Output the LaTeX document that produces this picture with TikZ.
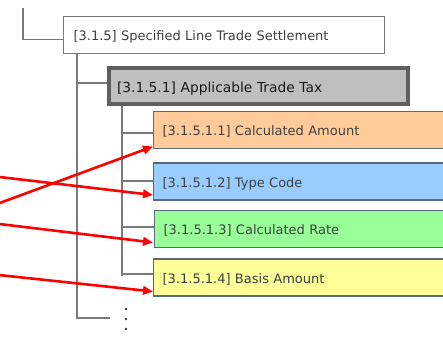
\documentclass[tikz,border=0pt]{standalone}
\usepackage{fontspec}
\setmainfont{DejaVu Sans}
\usetikzlibrary{arrows.meta}

\definecolor{treegray}{HTML}{7A7A7A}
\definecolor{boxline}{HTML}{5A6880}
\definecolor{txtgray}{HTML}{404040}
\definecolor{fillorange}{HTML}{FFCC99}
\definecolor{fillblue}{HTML}{99CCFF}
\definecolor{fillgreen}{HTML}{99FF99}
\definecolor{fillyellow}{HTML}{FFFF99}
\definecolor{fillgray}{HTML}{BFBFBF}
\definecolor{edgegray}{HTML}{5F5F5F}

\tikzset{
  tree/.style={draw=treegray, line width=1.8pt},
  levelbox/.style={draw=treegray, line width=1.6pt, fill=white,
    anchor=north west, minimum width=321pt, minimum height=37pt,
    inner xsep=10pt, text width=301pt, align=left, text=txtgray,
    text height=11.2pt, text depth=0pt,
    font=\fontsize{13}{15}\selectfont},
  taxbox/.style={draw=edgegray, line width=4pt, fill=fillgray,
    anchor=north west, minimum width=299pt, minimum height=36pt,
    inner xsep=8pt, text width=283pt, align=left, text=black!90,
    text height=11.5pt, text depth=0pt,
    font=\fontsize{13.8}{16}\selectfont},
  leafbox/.style={draw=boxline, line width=1.3pt,
    anchor=west, minimum width=320pt, minimum height=37pt,
    inner xsep=9.5pt, text width=301pt, align=left, text=txtgray,
    text height=11.2pt, text depth=0pt,
    font=\fontsize{13}{15}\selectfont},
  pointer/.style={draw=red, line width=2.6pt,
    -{Triangle[length=10pt,width=8.5pt]}}
}

\begin{document}
\begin{tikzpicture}[x=1pt,y=-1pt]
  \clip (0,0) rectangle (443,339);

  % boxes of the tree
  \node[levelbox] (s315) at (62.8,15.8) {[3.1.5] Specified Line Trade Settlement};
  \node[taxbox] (s3151) at (107,66.5) {[3.1.5.1] Applicable Trade Tax};
  \node[leafbox, fill=fillorange] (amount) at (152.5,130) {[3.1.5.1.1] Calculated Amount};
  \node[leafbox, fill=fillblue]   (type)   at (152.5,181.5) {[3.1.5.1.2] Type Code};
  \node[leafbox, fill=fillgreen]  (rate)   at (153.5,229) {[3.1.5.1.3] Calculated Rate};
  \node[leafbox, fill=fillyellow] (basis)  at (152.5,277.5) {[3.1.5.1.4] Basis Amount};

  % outer branch into [3.1.5]
  \coordinate (top) at (23,8);
  \coordinate (topbend) at (23,39.5);
  \draw[tree] (top) -- (topbend) -- (topbend -| s315.west);

  % spine under [3.1.5]
  \coordinate (spineA) at (77,318);
  \coordinate (spineAend) at (110,318);
  \coordinate (forkA) at (77,83);
  \draw[tree] (s315.south -| spineA) -- (spineA) -- (spineAend);
  \draw[tree] (forkA) -- (forkA -| s3151.west);

  % spine under [3.1.5.1]
  \coordinate (spineB) at (122,276);
  \coordinate (fork1) at (122,133);
  \coordinate (fork2) at (122,181);
  \coordinate (fork3) at (122,227);
  \coordinate (fork4) at (122,274);
  \draw[tree] (s3151.south -| spineB) -- (spineB);
  \draw[tree] (fork1) -- (fork1 -| amount.west);
  \draw[tree] (fork2) -- (fork2 -| type.west);
  \draw[tree] (fork3) -- (fork3 -| rate.west);
  \draw[tree] (fork4) -- (fork4 -| basis.west);

  % continuation dots
  \foreach \yy in {309,319,329} \fill[black!80] (126,\yy) circle (1.3pt);

  % red pointers
  \coordinate (p1) at (-3,176.7);
  \coordinate (p2) at (-3,204);
  \coordinate (p3) at (-3,223.7);
  \coordinate (p4) at (-3,274.8);
  \coordinate (q1) at (153,195);
  \coordinate (q2) at (153,146.5);
  \coordinate (q3) at (153,242.5);
  \coordinate (q4) at (153,291.5);
  \draw[pointer] (p1) -- (q1);
  \draw[pointer] (p2) -- (q2);
  \draw[pointer] (p3) -- (q3);
  \draw[pointer] (p4) -- (q4);
\end{tikzpicture}
\end{document}
